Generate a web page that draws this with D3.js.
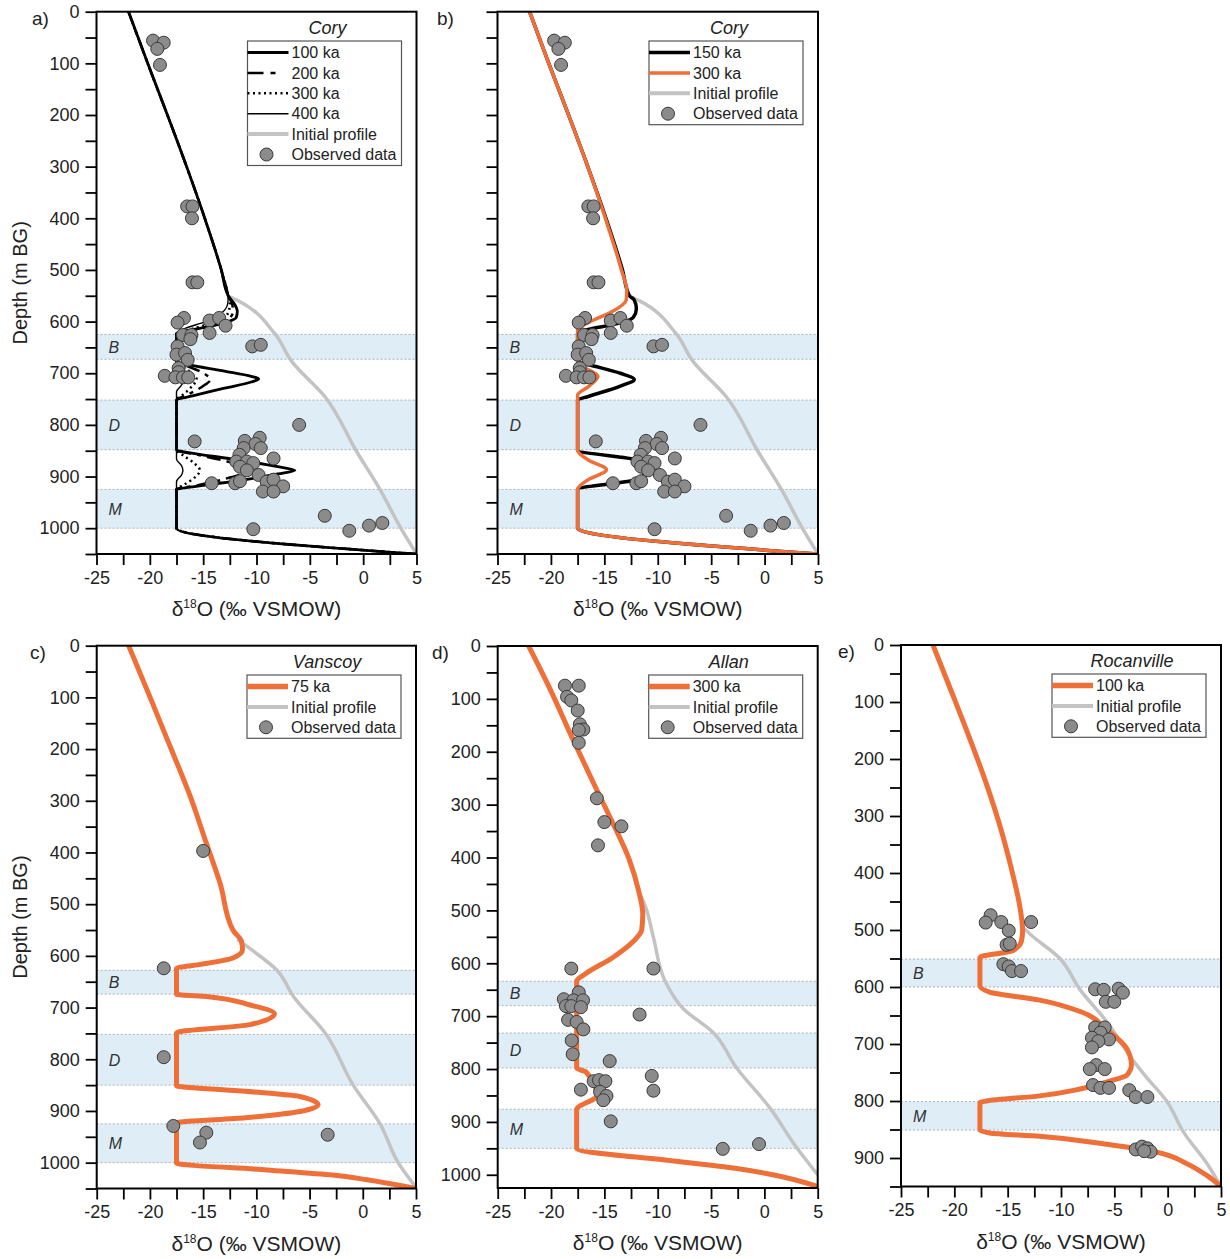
<!DOCTYPE html>
<html><head><meta charset="utf-8">
<script src="https://cdn.jsdelivr.net/npm/d3@7"></script>
<style>
body{margin:0;background:#fff}
svg{display:block}
text{font-family:Arial,"Liberation Sans",sans-serif}
</style>
</head><body>
<svg id="chart" width="1230" height="1259"></svg>
<script>
// ---------------- DATA ----------------
const xTickValues = [-25,-20,-15,-10,-5,0,5];
const xMinorValues = [-22.5,-17.5,-12.5,-7.5,-2.5,2.5];

// shared upper part of Cory model profiles [d18O, depth]
const coryTop = [[-22,0],[-20.2,100],[-18.35,200],[-16.55,300],[-14.85,400],[-13.3,500],[-12.65,550]];

const coryA100 = coryTop.concat([[-12.1,565],[-11.8,580],[-11.9,592],[-13.5,605],[-16,616],[-17.5,623],[-17.5,677],[-16.5,683],[-13,696],[-10.5,706],[-9.8,711],[-10.5,717],[-13,729],[-16,744],[-17.5,752],[-17.5,849],[-16.5,853],[-12,867],[-8,881],[-6.4,888],[-8,895],[-12,909],[-16,920],[-17.5,925],[-17.5,1000],[5,1050]]);
const coryA200 = coryTop.concat([[-12.3,565],[-12.2,580],[-12.8,598],[-15,612],[-17.5,624],[-17.5,677],[-16.5,686],[-14.8,702],[-14.3,712],[-14.8,722],[-16.5,742],[-17.5,752],[-17.5,849],[-15.5,858],[-12.5,872],[-10.5,887],[-12.5,902],[-15.5,917],[-17.5,925],[-17.5,1000],[5,1050]]);
const coryA300 = coryTop.concat([[-12.5,565],[-12.6,580],[-13.5,598],[-16,614],[-17.5,623],[-17.5,677],[-16.8,688],[-16,702],[-15.6,712],[-16,724],[-16.8,740],[-17.5,752],[-17.5,849],[-16.8,860],[-15.8,875],[-15.3,888],[-15.8,902],[-16.8,916],[-17.5,925],[-17.5,1000],[5,1050]]);
const coryA400 = coryTop.concat([[-12.7,565],[-13.2,582],[-14.8,600],[-16.8,614],[-17.5,622],[-17.5,690],[-17,704],[-16.9,712],[-17,722],[-17.5,736],[-17.5,866],[-17,880],[-16.9,888],[-17,896],[-17.5,910],[-17.5,1000],[5,1050]]);

const coryB150 = coryTop.concat([[-12.2,558],[-12.0,575],[-12.3,592],[-14,605],[-16.5,615],[-17.5,622],[-17.5,677],[-16.5,683],[-13.5,700],[-12.2,712],[-13.5,725],[-16.5,745],[-17.5,752],[-17.5,849],[-12,868],[-11,887],[-12,906],[-17.5,925],[-17.5,1000],[5,1050]]);
const coryB300 = [[-22,0],[-20.2,100],[-18.35,200],[-16.55,300],[-14.9,400],[-13.4,500],[-12.9,540],[-12.95,558],[-14.2,580],[-16.0,597],[-17.5,616],[-17.5,680],[-16.8,690],[-15.6,706],[-16.5,726],[-17.5,742],[-17.5,849],[-16.5,868],[-14.8,887],[-16.5,906],[-17.5,925],[-17.5,1000],[5,1050]];

const coryInitial = [[-12.5,552],[-11.7,560],[-8.3,623],[-6.7,677],[-3.6,745],[-0.6,852],[1.6,926],[3.45,997],[5,1050]];

const coryObserved = [
[-19.7,56],[-18.7,60],[-19.3,72],[-19.05,103],
[-16.5,377],[-16.0,377],[-16.05,400],[-16.0,524],[-15.55,524],
[-16.8,593],[-17.4,602],[-14.4,598],[-13.5,593],[-12.9,608],[-14.4,622],[-16.9,626],[-16.1,626],[-16.2,634],
[-17.4,648],[-10.4,648],[-9.6,645],[-17.5,664],[-16.7,661],[-16.45,674],[-17.3,690],[-17.3,698],
[-18.6,705],[-17.6,708],[-16.9,708],[-16.4,708],
[-6.0,800],[-15.8,832],[-11.1,831],[-9.7,825],[-10.1,837],[-11.2,845],[-9.6,845],[-11.6,858],[-8.4,865],
[-11.9,871],[-10.9,871],[-10.3,874],[-11.55,881],[-10.9,888],[-9.8,897],[-9.05,910],[-8.4,906],
[-14.2,913],[-12.0,913],[-11.55,909],[-7.5,919],[-9.4,929],[-8.4,929],
[-3.6,976],[-10.3,1002],[-1.3,1005],[0.55,995],[1.8,990]];

const vanscoy75 = [[-22,0],[-20,99],[-18.1,195],[-16.2,292],[-14.7,382],[-13.4,460],[-12.2,550],[-11.4,572],[-11.3,588],[-12.2,604],[-15.4,617],[-17.5,624],[-17.5,674],[-14.5,679],[-10.6,695],[-8.3,712],[-10.6,733],[-17.5,749],[-17.5,851],[-11,862],[-5.9,872],[-4.2,888],[-5.9,901],[-11,913],[-17.5,923],[-17.5,1001],[-9,1014],[-2.8,1024],[0.4,1033],[5,1050]];
const vanscoyInitial = [[-11.8,568],[-10.4,589],[-8.1,627],[-6.5,679],[-3.5,750],[-0.9,850],[1.6,924],[3.35,1001],[5,1048]];
const vanscoyObserved = [[-15.0,397],[-18.7,624],[-18.7,796],[-17.8,929],[-14.7,942],[-15.3,961],[-3.3,946]];

const allan300 = [[-22.1,0],[-20.1,81],[-18.1,170],[-16.0,260],[-14.4,327],[-12.7,402],[-11.8,462],[-11.4,507],[-11.5,537],[-12.3,559],[-14.2,589],[-16.7,619],[-17.6,634],[-17.6,798],[-16.7,806],[-15.7,850],[-17.6,877],[-17.6,950],[-8.5,974],[-2.3,989],[0.8,1000],[5,1022]];
const allanInitial = [[-11.6,472],[-11.2,490],[-10.4,551],[-9.3,634],[-7.6,686],[-4.8,731],[-2.6,798],[0.5,873],[3.0,948],[5,1000]];
const allanObserved = [
[-18.7,75],[-17.4,75],[-18.5,96],[-18.1,103],[-17.5,122],[-17.3,148],[-16.97,158],[-17.4,159],[-17.4,183],
[-15.7,288],[-15.0,333],[-13.4,341],[-15.6,377],
[-18.1,610],[-10.4,610],[-17.4,655],[-18.8,668],[-17.9,670],[-17.0,670],[-18.6,681],[-18.1,681],[-17.2,683],
[-11.7,697],[-18.4,707],[-17.6,711],[-16.97,725],[-18.06,746],[-17.97,772],[-14.5,785],
[-10.56,813],[-10.4,841],[-17.2,839],[-16.0,823],[-15.5,821],[-14.9,823],[-15.4,843],[-14.8,851],[-15.1,859],
[-14.4,899],[-3.9,951],[-0.5,942]];

const rocanville100 = [[-22,0],[-20.35,78],[-18.6,162],[-17.1,238],[-15.45,335],[-14.5,404],[-13.85,460],[-13.6,501],[-13.7,519],[-14.5,536],[-17.6,548],[-17.6,598],[-16.7,609],[-12.0,623],[-8.2,643],[-5.7,675],[-3.8,709],[-3.4,737],[-3.8,754],[-5.4,765],[-8.2,779],[-12.0,791],[-17.0,800],[-17.6,803],[-17.6,851],[-16.7,856],[-12.0,862],[-5.7,876],[-1.0,890],[1.8,910],[3.7,931],[5,950]];
const rocanvilleInitial = [[-13.4,498],[-13.2,502],[-10.1,550],[-8.2,605],[-5.7,661],[-3.2,730],[-2.0,758],[-0.1,800],[1.5,855],[3.7,910],[5,950]];
const rocanvilleObserved = [
[-16.6,474],[-17.06,487],[-15.6,486],[-12.8,486],[-14.9,501],[-15.1,526],[-14.8,524],[-15.4,560],[-14.9,564],[-14.6,572],[-13.75,572],
[-6.8,604],[-6.0,605],[-4.6,603],[-4.2,610],[-5.8,626],[-5.0,626],
[-6.8,671],[-5.9,671],[-6.3,680],[-7.1,689],[-5.5,692],[-6.5,695],[-7.1,706],
[-6.7,737],[-7.3,744],[-5.9,744],[-7.0,772],[-6.3,777],[-5.5,777],[-3.6,781],[-3.0,793],[-1.9,793],
[-3.0,885],[-2.4,880],[-1.9,883],[-1.6,889],[-2.2,888]];

const coryBands = [["B",625,673],["D",752,848],["M",925,1000]];
const vanscoyBands = [["B",628,674],["D",752,850],["M",925,1000]];
const allanBands = [["B",634,680],["D",732,798],["M",876,950]];
const rocanvilleBands = [["B",551,600],["M",801,851]];

// ---------------- STYLE ----------------
const ORANGE = "#ef6f38", GRAY = "#c3c3c3", BAND = "#deedf6";
const FONT = "Arial, 'Liberation Sans', sans-serif";
const svg = d3.select("#chart");

function panel(cfg){
  const g = svg.append("g");
  const x = d3.scaleLinear().domain([-25,5]).range([cfg.x0,cfg.x1]);
  const y = d3.scaleLinear().domain([0,cfg.dMax]).range([cfg.y0,cfg.y1]);
  const W = cfg.x1-cfg.x0;
  const clipId = "clip_"+cfg.id;
  svg.append("clipPath").attr("id",clipId).append("rect")
    .attr("x",cfg.x0).attr("y",cfg.y0).attr("width",W).attr("height",cfg.y1-cfg.y0);

  // bands
  cfg.bands.forEach(([lab,d0,d1])=>{
    g.append("rect").attr("x",cfg.x0).attr("y",y(d0)).attr("width",W).attr("height",y(d1)-y(d0)).attr("fill",BAND);
    [d0,d1].forEach(dd=>g.append("line").attr("x1",cfg.x0).attr("x2",cfg.x1).attr("y1",y(dd)).attr("y2",y(dd))
      .attr("stroke","#a9b3b8").attr("stroke-width",1).attr("stroke-dasharray","2,2"));
    g.append("text").attr("x",cfg.x0+12).attr("y",y((d0+d1)/2)).attr("dy","0.36em")
      .style("font-style","italic").style("font-size","16px").attr("fill","#333").text(lab);
  });

  // lines
  const line = d3.line().x(p=>x(p[0])).y(p=>y(p[1])).curve(d3.curveMonotoneY);
  const lg = g.append("g").attr("clip-path",`url(#${clipId})`);
  cfg.series.forEach(s=>{
    lg.append("path").attr("d",line(s.data)).attr("fill","none")
      .attr("stroke",s.color).attr("stroke-width",s.width)
      .attr("stroke-dasharray",s.dash||null).attr("stroke-linejoin","round");
  });

  // observed
  g.append("g").selectAll("circle").data(cfg.obs).join("circle")
    .attr("cx",p=>x(p[0])).attr("cy",p=>y(p[1])).attr("r",6.5)
    .attr("fill","#8b8b8b").attr("stroke","#3a3a3a").attr("stroke-width",1);

  // axes
  const xa = d3.axisBottom(x).tickValues(xTickValues.concat(xMinorValues)).tickSize(11).tickSizeOuter(0).tickPadding(6)
    .tickFormat(v=>xTickValues.includes(v)?String(v):"");
  const xg = g.append("g").attr("transform",`translate(0,${cfg.y1})`).call(xa);
  xg.select(".domain").remove();
  xg.selectAll("line").attr("stroke","#000").attr("stroke-width",1.8);
  xg.selectAll("text").style("font-size","18px").attr("fill","#222").style("font-family",FONT);

  const yVals = d3.range(0,cfg.dMax+1,50);
  const ya = d3.axisLeft(y).tickValues(yVals).tickSize(11).tickSizeOuter(0).tickPadding(6)
    .tickFormat(v=>(cfg.yLabels && v%100===0)?String(v):"");
  const yg = g.append("g").attr("transform",`translate(${cfg.x0},0)`).call(ya);
  yg.select(".domain").remove();
  yg.selectAll("line").attr("stroke","#000").attr("stroke-width",1.8);
  yg.selectAll("text").style("font-size","18px").attr("fill","#222").style("font-family",FONT);

  // frame
  g.append("rect").attr("x",cfg.x0).attr("y",cfg.y0).attr("width",W).attr("height",cfg.y1-cfg.y0)
    .attr("fill","none").attr("stroke","#000").attr("stroke-width",2);

  // x title
  const xt = g.append("text").attr("x",(cfg.x0+cfg.x1)/2).attr("y",cfg.y1+62).attr("text-anchor","middle")
    .style("font-size","21px").attr("fill","#222");
  xt.append("tspan").text("δ");
  xt.append("tspan").attr("dy",-8).style("font-size","12px").text("18");
  xt.append("tspan").attr("dy",8).text("O (‰ VSMOW)");

  if(cfg.yTitle){
    g.append("text").attr("transform",`translate(27,${(cfg.y0+cfg.y1)/2}) rotate(-90)`)
      .attr("text-anchor","middle").style("font-size","20px").attr("fill","#222").text("Depth (m BG)");
  }
  // panel letter
  g.append("text").attr("x",cfg.lx).attr("y",cfg.y0+13).style("font-size","19px").attr("fill","#222").text(cfg.letter);

  // legend
  const L = cfg.legend;
  const bx = cfg.x1-15, bw = 154;
  const left = bx-bw;
  const top = L.top;
  const n = L.items.length;
  const bh = 11.5 + (n-1)*20.4 + 11;
  g.append("text").attr("x",left+80).attr("y",top-13).attr("dy","0.36em").attr("text-anchor","middle")
    .style("font-style","italic").style("font-size","18px").attr("fill","#222").text(L.title);
  g.append("rect").attr("x",left).attr("y",top).attr("width",bw).attr("height",bh)
    .attr("fill","#fff").attr("stroke","#555").attr("stroke-width",1.2);
  L.items.forEach((it,i)=>{
    const yy = top+11.5+i*20.4;
    if(it.dot){
      g.append("circle").attr("cx",left+19).attr("cy",yy).attr("r",6.5)
        .attr("fill","#8b8b8b").attr("stroke","#3a3a3a").attr("stroke-width",1);
    } else {
      g.append("line").attr("x1",left).attr("x2",left+41).attr("y1",yy).attr("y2",yy)
        .attr("stroke",it.color).attr("stroke-width",it.width).attr("stroke-dasharray",it.dash||null);
    }
    g.append("text").attr("x",left+44).attr("y",yy).attr("dy","0.36em").style("font-size","16px").attr("fill","#222").text(it.label);
  });
}

const obsItem = {label:"Observed data", dot:true};
const initItem = {label:"Initial profile", color:GRAY, width:4};

panel({id:"a", letter:"a)", lx:32, x0:96.5, x1:416.5, y0:11.7, y1:554, dMax:1050, yLabels:true, yTitle:true,
  bands:coryBands, obs:coryObserved,
  series:[
    {data:coryInitial, color:GRAY, width:3.5},
    {data:coryA400, color:"#000", width:1.4},
    {data:coryA300, color:"#000", width:2.5, dash:"2,3.5"},
    {data:coryA200, color:"#000", width:2.5, dash:"14,6,4,6"},
    {data:coryA100, color:"#000", width:2.8}],
  legend:{title:"Cory", top:41, items:[
    {label:"100 ka", color:"#000", width:3},
    {label:"200 ka", color:"#000", width:2.5, dash:"16,7,5,13"},
    {label:"300 ka", color:"#000", width:2.5, dash:"2,3.5"},
    {label:"400 ka", color:"#000", width:1.4},
    initItem, obsItem]}});

panel({id:"b", letter:"b)", lx:437, x0:497.5, x1:818, y0:11.7, y1:554, dMax:1050, yLabels:false, yTitle:false,
  bands:coryBands, obs:coryObserved,
  series:[
    {data:coryInitial, color:GRAY, width:3.5},
    {data:coryB150, color:"#000", width:3.5},
    {data:coryB300, color:ORANGE, width:3.5}],
  legend:{title:"Cory", top:41, items:[
    {label:"150 ka", color:"#000", width:3.5},
    {label:"300 ka", color:ORANGE, width:3.5},
    initItem, obsItem]}});

panel({id:"c", letter:"c)", lx:30, x0:96.7, x1:416, y0:645.7, y1:1188.5, dMax:1050, yLabels:true, yTitle:true,
  bands:vanscoyBands, obs:vanscoyObserved,
  series:[
    {data:vanscoyInitial, color:GRAY, width:3.5},
    {data:vanscoy75, color:ORANGE, width:5}],
  legend:{title:"Vanscoy", top:675, items:[
    {label:"75 ka", color:ORANGE, width:5.5}, initItem, obsItem]}});

panel({id:"d", letter:"d)", lx:432, x0:497.7, x1:817.7, y0:646, y1:1188, dMax:1025, yLabels:true, yTitle:false,
  bands:allanBands, obs:allanObserved,
  series:[
    {data:allanInitial, color:GRAY, width:3.5},
    {data:allan300, color:ORANGE, width:5}],
  legend:{title:"Allan", top:675, items:[
    {label:"300 ka", color:ORANGE, width:5.5}, initItem, obsItem]}});

panel({id:"e", letter:"e)", lx:838, x0:901, x1:1221, y0:645, y1:1186.5, dMax:950, yLabels:true, yTitle:false,
  bands:rocanvilleBands, obs:rocanvilleObserved,
  series:[
    {data:rocanvilleInitial, color:GRAY, width:3.5},
    {data:rocanville100, color:ORANGE, width:5}],
  legend:{title:"Rocanville", top:674, items:[
    {label:"100 ka", color:ORANGE, width:5.5}, initItem, obsItem]}});
</script>
</body></html>
